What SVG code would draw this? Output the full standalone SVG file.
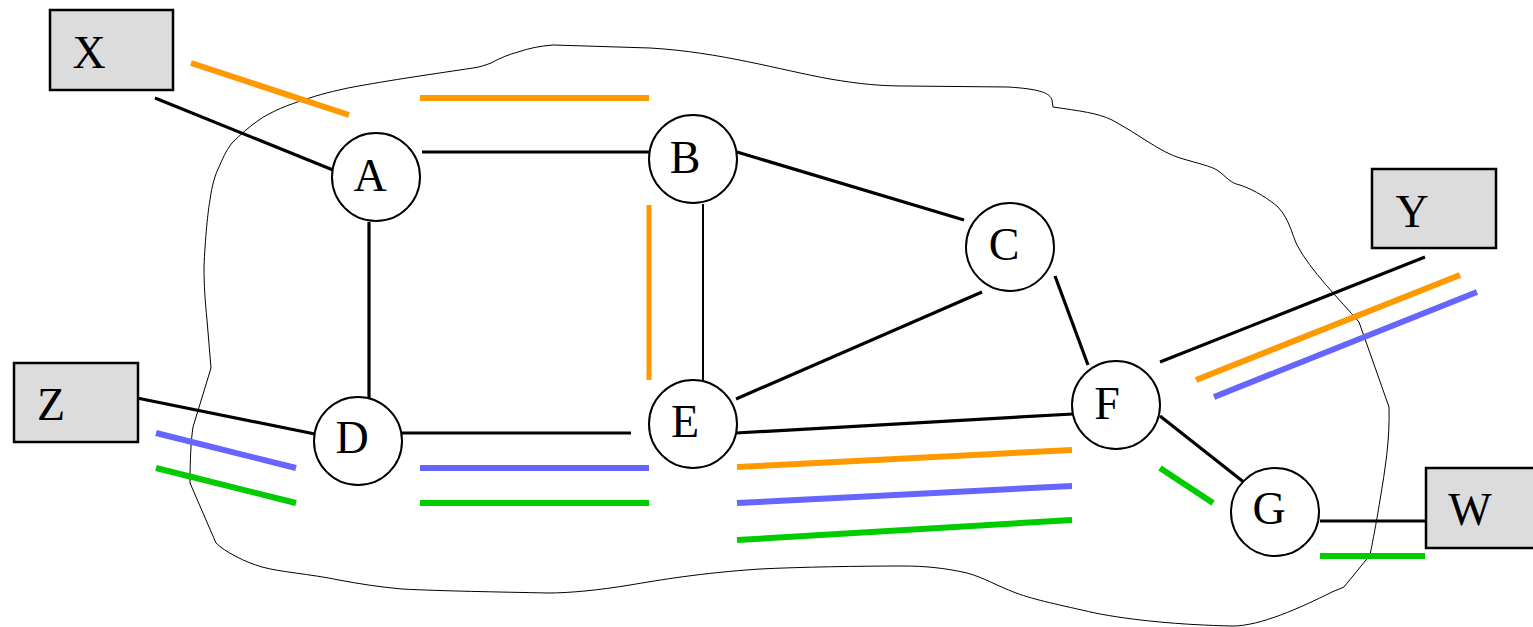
<svg xmlns="http://www.w3.org/2000/svg" width="1533" height="627" viewBox="0 0 1533 627">
<style>
.box{fill:#dcdcdc;stroke:#000;stroke-width:2.5}
.node{fill:#fff;stroke:#000;stroke-width:2}
.lbl{font-family:"Liberation Serif","Times New Roman",serif;font-size:46px;fill:#000;text-anchor:middle}
.e{stroke:#000;stroke-width:3.2;fill:none}
.et{stroke:#000;stroke-width:2;fill:none}
.o{stroke:#ff9900;stroke-width:6;fill:none}
.b{stroke:#6666ff;stroke-width:6;fill:none}
.g{stroke:#00cc00;stroke-width:6;fill:none}
.blob{fill:none;stroke:#000;stroke-width:1}
</style>
<path class="blob" d="M553,45 L650,48 C720,52 780,70 830,79 C860,84 880,86 905,86 L1008,87 C1040,89 1050,93 1052,100 L1053,107 C1080,111 1098,113 1112,120 C1140,135 1160,152 1180,158 C1200,164 1210,166 1217,170 C1228,178 1230,183 1240,185 C1255,190 1270,200 1278,207 C1290,220 1292,235 1297,245 C1310,270 1340,300 1359,322 L1389,407 C1390,440 1385,470 1380,500 C1376,525 1372,545 1370,555 L1344,587 L1332,592 C1300,608 1260,626 1233,626 C1180,625 1130,620 1095,613 C1060,605 1035,600 1016,593 C995,585 985,578 967,573 C945,568 925,566 903,566 C860,566 800,567 760,569 C700,573 660,580 630,585 C600,590 570,593 548,593 C500,592 440,591 402,589 C380,587 360,584 339,580 C310,574 280,572 262,567 C245,562 225,552 216,543 L190,483 C190,460 191,440 193,427 L211,368 L207,320 C205,300 204,285 204,267 C205,240 208,210 210,200 C212,185 215,175 219,167 C224,155 228,148 232,143 C240,135 250,126 259,120 C270,112 290,104 304,100 C320,94 335,91 348,88 C390,80 440,73 473,68 C480,67 486,65 491,63 C500,58 510,54 518,52 C530,48 540,46 553,45 Z"/>
<g id="connectors">
<line class="e" x1="155" y1="98" x2="333" y2="170"/>
<line class="e" x1="422" y1="152" x2="650" y2="152"/>
<line class="e" x1="369" y1="222" x2="369" y2="399"/>
<line class="e" x1="737" y1="152" x2="964" y2="220"/>
<line class="et" x1="703" y1="204" x2="703" y2="381"/>
<line class="e" x1="982" y1="292" x2="736" y2="399"/>
<line class="e" x1="1055" y1="276" x2="1088" y2="365"/>
<line class="e" x1="1160" y1="362" x2="1425" y2="257"/>
<line class="e" x1="137" y1="398" x2="315" y2="434"/>
<line class="e" x1="402" y1="433" x2="631" y2="433"/>
<line class="e" x1="736" y1="433" x2="1073" y2="414"/>
<line class="e" x1="1160" y1="416" x2="1250" y2="487"/>
<line class="e" x1="1320" y1="521" x2="1426" y2="521"/>
<line class="o" x1="191" y1="63" x2="349" y2="115"/>
<line class="o" x1="420" y1="98" x2="649" y2="98"/>
<line class="o" x1="649" y1="205" x2="649" y2="380" style="stroke-width:5"/>
<line class="o" x1="737" y1="467" x2="1072" y2="450"/>
<line class="o" x1="1196" y1="380" x2="1460" y2="275"/>
<line class="b" x1="1214" y1="397" x2="1477" y2="292"/>
<line class="b" x1="156" y1="433" x2="296" y2="468"/>
<line class="g" x1="156" y1="468" x2="296" y2="503"/>
<line class="b" x1="420" y1="468" x2="649" y2="468"/>
<line class="g" x1="420" y1="503" x2="649" y2="503"/>
<line class="b" x1="737" y1="503" x2="1072" y2="486"/>
<line class="g" x1="737" y1="540" x2="1072" y2="520"/>
<line class="g" x1="1160" y1="468" x2="1213" y2="503"/>
<line class="g" x1="1320" y1="556" x2="1425" y2="556"/>
</g>
<g id="X"><rect class="box" x="50" y="10" width="123" height="80"/><text class="lbl" x="89" y="68">X</text></g>
<g id="Y"><rect class="box" x="1372" y="169" width="124" height="79"/><text class="lbl" x="1412" y="227">Y</text></g>
<g id="Z"><rect class="box" x="14" y="363" width="124" height="79"/><text class="lbl" x="51" y="420">Z</text></g>
<g id="W"><rect class="box" x="1426" y="468" width="120" height="80"/><text class="lbl" x="1470" y="525">W</text></g>
<g id="A"><circle class="node" cx="376" cy="177" r="44"/><text class="lbl" x="370" y="191">A</text></g>
<g id="B"><circle class="node" cx="693" cy="159" r="44"/><text class="lbl" x="685" y="173">B</text></g>
<g id="C"><circle class="node" cx="1010" cy="247" r="44"/><text class="lbl" x="1004" y="260">C</text></g>
<g id="D"><circle class="node" cx="358" cy="441" r="44"/><text class="lbl" x="352" y="453">D</text></g>
<g id="E"><circle class="node" cx="693" cy="424" r="44"/><text class="lbl" x="685" y="437">E</text></g>
<g id="F"><circle class="node" cx="1116" cy="405" r="44"/><text class="lbl" x="1107" y="419">F</text></g>
<g id="G"><circle class="node" cx="1275" cy="512" r="44"/><text class="lbl" x="1269" y="524">G</text></g>
</svg>
